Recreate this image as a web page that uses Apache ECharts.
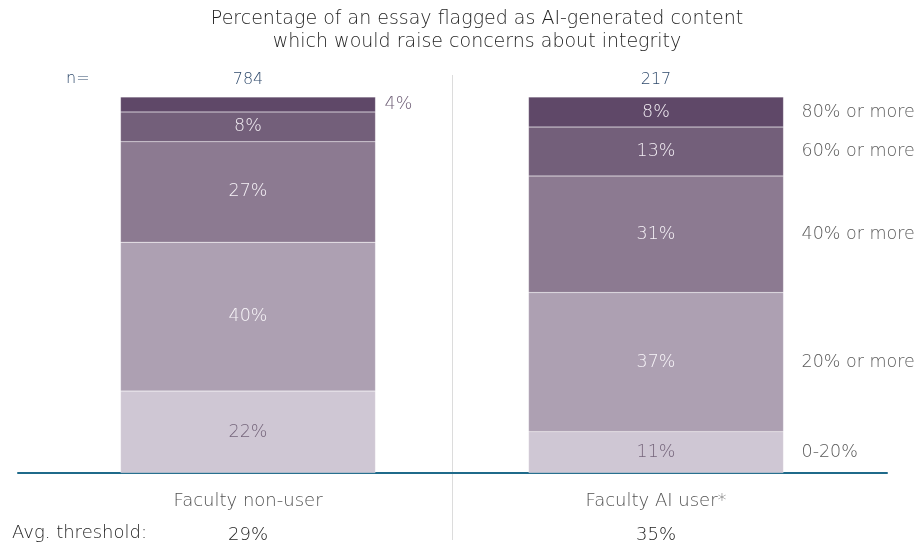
<!DOCTYPE html>
<html><head><meta charset="utf-8">
<script src="https://cdn.jsdelivr.net/npm/echarts@6/dist/echarts.min.js"></script>
<style>html,body{margin:0;padding:0;background:#fff}#c{width:922px;height:546px}</style>
</head><body><div id="c"></div>
<script>
const titleLines = ['Percentage of an essay flagged as AI-generated content', 'which would raise concerns about integrity'];
const categories = ['Faculty non-user', 'Faculty AI user*'];
const sampleSizes = ['784', '217'];
const avgThreshold = ['29%', '35%'];
const levels = ['0-20%', '20% or more', '40% or more', '60% or more', '80% or more'];
const nonUser = [22, 40, 27, 8, 4];
const aiUser = [11, 37, 31, 13, 8];

const colors = ['#cfc7d4', '#ada0b2', '#8c7a91', '#735f7a', '#5f4868'];
const labelColors = ['#76667c', '#f8f5f9', '#f6f2f7', '#f2edf3', '#f2edf3'];
const FONT = '"DejaVu Sans"';
const W = 300;

const chart = echarts.init(document.getElementById('c'));
const sets = [nonUser, aiUser];
const gridLeft = [44, 452];
const grids = [], xAxes = [], yAxes = [], series = [];
sets.forEach((vals, g) => {
  grids.push({left: gridLeft[g], width: 408, top: 97, bottom: 73});
  xAxes.push({type: 'category', gridIndex: g, data: [categories[g]],
    axisLine: {show: false}, axisTick: {show: false},
    axisLabel: {margin: 11, formatter: v => '{c|' + v + '}\n{v|' + avgThreshold[g] + '}',
      rich: {c: {fontFamily: FONT, fontWeight: W, fontSize: 18, color: '#505050', lineHeight: 34},
             v: {fontFamily: FONT, fontWeight: W, fontSize: 18, color: '#1e1e1e', lineHeight: 34}}}});
  xAxes.push({type: 'category', gridIndex: g, position: 'top', data: [sampleSizes[g]],
    axisLine: {show: false}, axisTick: {show: false},
    axisLabel: {margin: 9, fontFamily: FONT, fontWeight: W, fontSize: 16, color: '#2f4a6c'}});
  yAxes.push({type: 'value', gridIndex: g, min: 0, max: vals.reduce((a, b) => a + b, 0),
    show: false, splitLine: {show: false}});
  vals.forEach((v, i) => {
    const outside = g === 0 && v < 5;
    series.push({type: 'bar', name: levels[i], xAxisIndex: g * 2, yAxisIndex: g,
      stack: 's' + g, barWidth: 255, data: [v],
      itemStyle: {color: colors[i], borderColor: 'rgba(255,255,255,0.35)', borderWidth: 0.5},
      label: {show: true, position: outside ? 'right' : 'inside', distance: 9,
        formatter: '{c}%', fontFamily: FONT, fontWeight: W, fontSize: 17.5,
        color: outside ? '#6e5e76' : labelColors[i]},
      emphasis: {disabled: true}});
  });
  if (g === 1) {
    vals.forEach((v, i) => {
      series.push({type: 'bar', name: levels[i] + ' ', xAxisIndex: 2, yAxisIndex: 1,
        stack: 'legend', barWidth: 255, barGap: '-100%', data: [v],
        itemStyle: {color: 'rgba(0,0,0,0)'},
        label: {show: true, position: 'right', distance: 18, formatter: levels[i],
          fontFamily: FONT, fontWeight: W, fontSize: 17.5, color: '#5a5a5a'},
        emphasis: {disabled: true}, z: 1});
    });
  }
});
grids.push({left: 18, right: 35, top: 97, bottom: 73});
xAxes.push({type: 'value', gridIndex: 2, min: 0, max: 1, axisLine: {show: true, onZero: false, lineStyle: {color: '#1f6a8a', width: 2}},
  axisTick: {show: false}, axisLabel: {show: false}, splitLine: {show: false}});
yAxes.push({type: 'value', gridIndex: 2, min: 0, max: 1, show: false, splitLine: {show: false}});

chart.setOption({
  animation: false,
  textStyle: {fontFamily: FONT},
  title: {text: titleLines.join('\n'), left: 472, top: 3, textAlign: 'center',
    textStyle: {fontFamily: FONT, fontSize: 19, fontWeight: W, color: '#1e1e1e', lineHeight: 23}},
  grid: grids, xAxis: xAxes, yAxis: yAxes, series: series,
  graphic: [
    {type: 'line', shape: {x1: 452.5, y1: 75, x2: 452.5, y2: 540}, style: {stroke: '#dcdcdc', lineWidth: 1}, z: -1},
    {type: 'text', left: 66, top: 71, style: {text: 'n=', fontFamily: FONT, fontWeight: W, fontSize: 16, fill: '#2f4a6c'}},
    {type: 'text', left: 12, top: 524, style: {text: 'Avg. threshold:', fontFamily: FONT, fontWeight: W, fontSize: 18, fill: '#1e1e1e'}}
  ]
});
</script></body></html>
